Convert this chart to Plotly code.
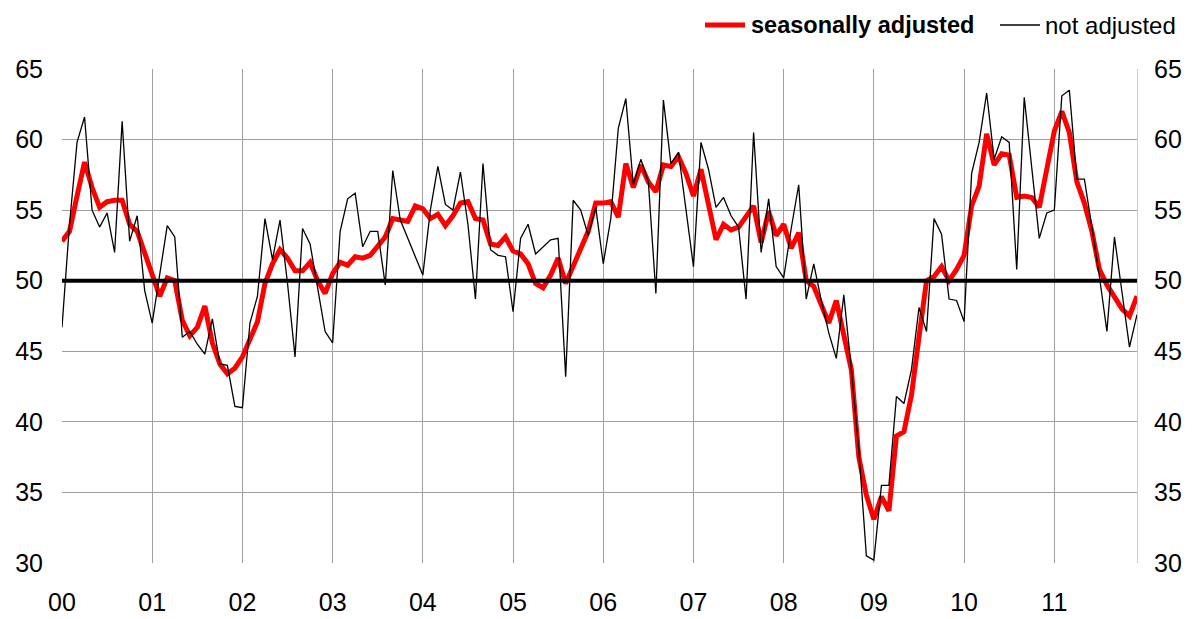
import plotly.graph_objects as go

# Monthly index Jan 2000 .. Dec 2011
months = list(range(144))
year_ticks = [0, 12, 24, 36, 48, 60, 72, 84, 96, 108, 120, 132]
year_labels = ["00", "01", "02", "03", "04", "05", "06", "07", "08", "09", "10", "11"]
y_ticks = [30, 35, 40, 45, 50, 55, 60, 65]

not_adjusted = [
    46.7, 54.0, 59.8, 61.6, 55.0, 53.8, 54.8, 52.0, 61.3, 52.8, 54.6, 49.3,
    47.0, 50.4, 53.9, 53.1, 46.0, 46.4, 45.5, 44.8, 47.3, 44.1, 44.0, 41.1,
    41.0, 47.0, 48.9, 54.4, 51.5, 54.3, 49.8, 44.6, 53.7, 52.6, 49.5, 46.4,
    45.6, 53.5, 55.8, 56.2, 52.4, 53.5, 53.5, 49.7, 57.8, 54.3, 53.0, 51.7,
    50.4, 55.0, 58.1, 55.4, 55.0, 57.7, 54.0, 48.7, 58.3, 52.2, 51.8, 51.7,
    47.8, 53.0, 54.0, 51.9, 52.4, 52.9, 53.0, 43.2, 55.7, 55.0, 53.2, 55.2,
    51.2, 54.4, 60.8, 62.9, 56.8, 58.6, 57.0, 49.1, 62.8, 58.3, 59.1, 54.9,
    51.0, 59.8, 57.9, 55.2, 55.9, 54.6, 53.8, 48.7, 60.5, 52.0, 55.8, 51.0,
    50.2, 53.7, 56.8, 48.7, 51.2, 48.6, 46.3, 44.5, 49.0, 43.7, 38.0, 30.5,
    30.2, 35.5, 35.5, 41.8, 41.3, 43.7, 48.1, 46.4, 54.4, 53.3, 48.7, 48.6,
    47.1, 57.6, 59.8, 63.3, 58.6, 60.2, 59.8, 50.8, 63.0, 58.0, 53.0, 54.8,
    55.0, 63.1, 63.5, 57.2, 57.2, 53.8, 50.3, 46.4, 53.1, 49.2, 45.3, 47.6,
]

seasonally_adjusted = [
    52.8, 53.5, 56.0, 58.4, 56.6, 55.2, 55.6, 55.7, 55.7, 54.0, 53.5, 51.9,
    50.4, 48.9, 50.2, 50.0, 47.2, 46.1, 46.7, 48.2, 45.6, 44.1, 43.4, 43.8,
    44.6, 45.9, 47.1, 49.8, 51.2, 52.2, 51.6, 50.7, 50.7, 51.3, 50.0, 49.1,
    50.5, 51.3, 51.1, 51.7, 51.6, 51.8, 52.4, 53.1, 54.4, 54.3, 54.2, 55.3,
    55.1, 54.4, 54.7, 53.9, 54.6, 55.5, 55.6, 54.4, 54.3, 52.6, 52.5, 53.1,
    52.1, 51.9, 51.2, 49.8, 49.5, 50.4, 51.6, 49.8, 51.1, 52.3, 53.5, 55.5,
    55.5, 55.6, 54.5, 58.3, 56.6, 58.2, 57.0, 56.3, 58.2, 58.1, 58.8, 57.6,
    56.0, 57.9, 55.3, 52.9, 54.0, 53.6, 53.8, 54.5, 55.3, 52.7, 54.9, 53.2,
    54.0, 52.3, 53.4, 50.0, 49.6, 48.3, 47.0, 48.6, 46.0, 43.7, 37.5, 34.8,
    33.1, 34.7, 33.7, 39.0, 39.3, 41.9, 46.0, 50.0, 50.3, 51.0, 50.0, 50.8,
    51.8, 55.3, 56.7, 60.4, 58.2, 59.0, 58.9, 55.9, 56.0, 55.9, 55.2, 58.0,
    60.6, 62.0, 60.5, 57.0, 55.5, 53.5, 50.8, 49.7, 48.8, 48.0, 47.5, 48.9,
]

threshold = 50

FONT = "Liberation Sans, Arial, sans-serif"

# The page body has an 8px margin, so the figure is drawn 8px in from the
# window's top-left corner; size the figure so that it fills the window.
OFF = 8
W, H = 1201 - OFF, 619 - OFF
# target plot area in window pixels: x 62..1137, y 69..563
L, R, T, B = 62 - OFF, 1201 - 1137, 69 - OFF, 619 - 563
PW, PH = W - L - R, H - T - B


def px_x(px):
    """window pixel x -> paper coordinate"""
    return (px - OFF - L) / PW


def px_y(py):
    """window pixel y -> paper coordinate"""
    return (H - B - (py - OFF)) / PH


fig = go.Figure()
fig.add_trace(go.Scatter(
    x=months, y=seasonally_adjusted, mode="lines",
    name="seasonally adjusted",
    line=dict(color="#ff0000", width=5),
))
fig.add_trace(go.Scatter(
    x=months, y=not_adjusted, mode="lines",
    name="not adjusted",
    line=dict(color="#000000", width=1.3),
))
# invisible trace to drive the right-hand axis
fig.add_trace(go.Scatter(
    x=[months[0], months[-1]], y=[y_ticks[0], y_ticks[-1]], yaxis="y2",
    mode="lines", line=dict(width=0), showlegend=False, hoverinfo="skip",
))

fig.add_shape(type="line", xref="x", yref="y",
              x0=months[0], x1=months[-1], y0=threshold, y1=threshold,
              line=dict(color="black", width=4), layer="above")

# legend (drawn manually to match placement)
leg_y = px_y(25)
fig.add_shape(type="line", xref="paper", yref="paper",
              x0=px_x(705), x1=px_x(745), y0=leg_y, y1=leg_y,
              line=dict(color="#ff0000", width=5))
fig.add_annotation(xref="paper", yref="paper", x=px_x(749), y=leg_y,
                   xanchor="left", yanchor="middle", showarrow=False,
                   text="<b>seasonally adjusted</b>",
                   font=dict(family=FONT, size=23.5, color="black"))
fig.add_shape(type="line", xref="paper", yref="paper",
              x0=px_x(1000), x1=px_x(1040), y0=leg_y, y1=leg_y,
              line=dict(color="#000000", width=1.3))
fig.add_annotation(xref="paper", yref="paper", x=px_x(1043), y=leg_y,
                   xanchor="left", yanchor="middle", showarrow=False,
                   text="not adjusted",
                   font=dict(family=FONT, size=24, color="black"))

fig.update_layout(
    width=W, height=H,
    margin=dict(l=L, r=R, t=T, b=B, autoexpand=False),
    paper_bgcolor="white", plot_bgcolor="white",
    font=dict(family=FONT, size=24, color="black"),
    showlegend=False,
    xaxis=dict(range=[months[0], months[-1]], tickmode="array",
               tickvals=year_ticks, ticktext=year_labels,
               showgrid=True, gridcolor="#a0a0a0", gridwidth=1,
               zeroline=False, showline=False,
               ticks="", ticklabelstandoff=22, automargin=False,
               tickfont=dict(size=25)),
    yaxis=dict(range=[30, 65], tickmode="array", tickvals=y_ticks,
               showgrid=True, gridcolor="#a0a0a0", gridwidth=1,
               zeroline=False, showline=False, ticks="", ticklabelstandoff=18,
               automargin=False, tickfont=dict(size=25)),
    yaxis2=dict(range=[30, 65], tickmode="array", tickvals=y_ticks,
                overlaying="y", side="right", showgrid=False, zeroline=False,
                showline=True, linecolor="#cccccc", linewidth=1,
                ticks="", ticklabelstandoff=11,
                automargin=False, tickfont=dict(size=25)),
)

fig.write_html("out.html")
